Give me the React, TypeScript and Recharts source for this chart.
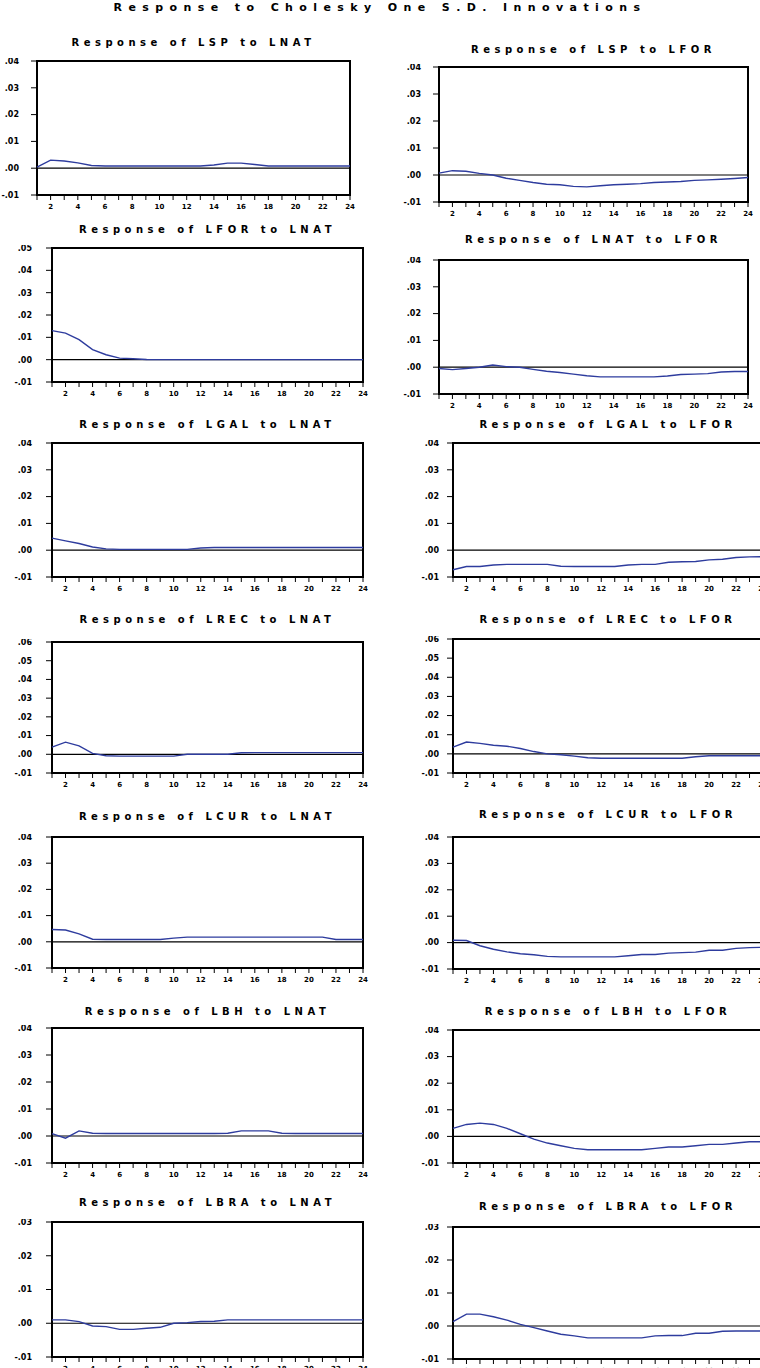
import React from 'react';
import { LineChart, Line, XAxis, YAxis, ReferenceLine, ReferenceArea } from 'recharts';

// periods 1..24, labels on even periods
const PERIODS = [1, 2, 3, 4, 5, 6, 7, 8, 9, 10, 11, 12, 13, 14, 15, 16, 17, 18, 19, 20, 21, 22, 23, 24];

const TICKS_5 = [-0.01, 0, 0.01, 0.02, 0.03];
const TICKS_6 = [-0.01, 0, 0.01, 0.02, 0.03, 0.04];
const TICKS_7 = [-0.01, 0, 0.01, 0.02, 0.03, 0.04, 0.05];
const TICKS_8 = [-0.01, 0, 0.01, 0.02, 0.03, 0.04, 0.05, 0.06];

const LSP_LNAT = [0.0004, 0.003, 0.0027, 0.002, 0.001, 0.0008, 0.0008, 0.0008, 0.0008, 0.0008, 0.0008, 0.0008, 0.0008, 0.0012, 0.0019, 0.0019, 0.0014, 0.0008, 0.0008, 0.0008, 0.0008, 0.0008, 0.0008, 0.0008];
const LSP_LFOR = [0.0007, 0.0016, 0.0014, 0.0006, 0.0, -0.0012, -0.002, -0.0028, -0.0034, -0.0036, -0.0042, -0.0044, -0.004, -0.0036, -0.0034, -0.0032, -0.0028, -0.0026, -0.0024, -0.002, -0.0018, -0.0016, -0.0013, -0.0009];
const LFOR_LNAT = [0.013, 0.0119, 0.009, 0.0045, 0.0022, 0.0007, 0.0004, 0.0001, 0.0, 0.0, 0.0, 0.0, 0.0, 0.0, 0.0, 0.0, 0.0, 0.0, 0.0, 0.0, 0.0, 0.0, 0.0, 0.0];
const LNAT_LFOR = [-0.0005, -0.0009, -0.0005, 0.0, 0.0008, 0.0002, 0.0, -0.0008, -0.0015, -0.002, -0.0026, -0.0032, -0.0036, -0.0036, -0.0036, -0.0036, -0.0036, -0.0033, -0.0027, -0.0026, -0.0024, -0.0018, -0.0016, -0.0016];
const LGAL_LNAT = [0.0045, 0.0035, 0.0025, 0.0012, 0.0005, 0.0003, 0.0003, 0.0003, 0.0003, 0.0003, 0.0003, 0.0008, 0.001, 0.001, 0.001, 0.001, 0.001, 0.001, 0.001, 0.001, 0.001, 0.001, 0.001, 0.001];
const LGAL_LFOR = [-0.0073, -0.0061, -0.0061, -0.0055, -0.0053, -0.0053, -0.0053, -0.0053, -0.006, -0.0061, -0.0061, -0.0061, -0.0061, -0.0055, -0.0053, -0.0053, -0.0045, -0.0043, -0.0042, -0.0036, -0.0034, -0.0027, -0.0025, -0.0024];
const LREC_LNAT = [0.0038, 0.0065, 0.0045, 0.0005, -0.0008, -0.001, -0.001, -0.001, -0.001, -0.001, 0.0, 0.0, 0.0, 0.0, 0.0008, 0.0009, 0.0009, 0.0009, 0.0009, 0.0009, 0.0009, 0.0009, 0.0009, 0.0009];
const LREC_LFOR = [0.0035, 0.0062, 0.0055, 0.0045, 0.004, 0.0028, 0.0012, 0.0, -0.0005, -0.0012, -0.002, -0.0023, -0.0023, -0.0023, -0.0023, -0.0023, -0.0023, -0.0023, -0.0015, -0.001, -0.001, -0.001, -0.001, -0.001];
const LCUR_LNAT = [0.0047, 0.0045, 0.003, 0.001, 0.0009, 0.0009, 0.0009, 0.0009, 0.0009, 0.0014, 0.0018, 0.0018, 0.0018, 0.0018, 0.0018, 0.0018, 0.0018, 0.0018, 0.0018, 0.0018, 0.0018, 0.0009, 0.0009, 0.0009];
const LCUR_LFOR = [0.0009, 0.0008, -0.0012, -0.0025, -0.0035, -0.0042, -0.0046, -0.0052, -0.0054, -0.0054, -0.0054, -0.0054, -0.0054, -0.005, -0.0045, -0.0045, -0.004, -0.0038, -0.0036, -0.0029, -0.0029, -0.0022, -0.0019, -0.0018];
const LBH_LNAT = [0.0009, -0.0008, 0.0019, 0.001, 0.0009, 0.0009, 0.0009, 0.0009, 0.0009, 0.0009, 0.0009, 0.0009, 0.0009, 0.001, 0.0019, 0.0019, 0.0019, 0.001, 0.0009, 0.0009, 0.0009, 0.0009, 0.0009, 0.0009];
const LBH_LFOR = [0.003, 0.0045, 0.005, 0.0045, 0.003, 0.001, -0.001, -0.0025, -0.0035, -0.0045, -0.005, -0.005, -0.005, -0.005, -0.005, -0.0045, -0.004, -0.004, -0.0035, -0.003, -0.003, -0.0025, -0.002, -0.002];
const LBRA_LNAT = [0.001, 0.001, 0.0005, -0.0008, -0.001, -0.0018, -0.0018, -0.0015, -0.0012, 0.0, 0.0002, 0.0005, 0.0006, 0.001, 0.001, 0.001, 0.001, 0.001, 0.001, 0.001, 0.001, 0.001, 0.001, 0.001];
const LBRA_LFOR = [0.0013, 0.0036, 0.0036, 0.0028, 0.0018, 0.0005, -0.0005, -0.0015, -0.0025, -0.003, -0.0036, -0.0036, -0.0036, -0.0036, -0.0036, -0.003, -0.0029, -0.0029, -0.0022, -0.0022, -0.0016, -0.0015, -0.0015, -0.0015];

const PANELS = [
  { title: 'Response of LSP to LNAT', values: LSP_LNAT, ticks: TICKS_6, box: [37, 350, 61, 195], titleY: 43, gap: 12 },
  { title: 'Response of LSP to LFOR', values: LSP_LFOR, ticks: TICKS_6, box: [439, 748, 67, 202], titleY: 50, gap: 12 },
  { title: 'Response of LFOR to LNAT', values: LFOR_LNAT, ticks: TICKS_7, box: [52, 363, 248, 382], titleY: 230, gap: 14 },
  { title: 'Response of LNAT to LFOR', values: LNAT_LFOR, ticks: TICKS_6, box: [439, 748, 260, 394], titleY: 240, gap: 12 },
  { title: 'Response of LGAL to LNAT', values: LGAL_LNAT, ticks: TICKS_6, box: [52, 363, 443, 577], titleY: 425, gap: 14 },
  { title: 'Response of LGAL to LFOR', values: LGAL_LFOR, ticks: TICKS_6, box: [453, 763, 443, 577], titleY: 425, gap: 8 },
  { title: 'Response of LREC to LNAT', values: LREC_LNAT, ticks: TICKS_8, box: [52, 363, 642, 773], titleY: 620, gap: 14 },
  { title: 'Response of LREC to LFOR', values: LREC_LFOR, ticks: TICKS_8, box: [453, 763, 639, 773], titleY: 620, gap: 8 },
  { title: 'Response of LCUR to LNAT', values: LCUR_LNAT, ticks: TICKS_6, box: [52, 363, 837, 968], titleY: 817, gap: 14 },
  { title: 'Response of LCUR to LFOR', values: LCUR_LFOR, ticks: TICKS_6, box: [453, 763, 837, 969], titleY: 815, gap: 8 },
  { title: 'Response of LBH to LNAT', values: LBH_LNAT, ticks: TICKS_6, box: [52, 363, 1028, 1163], titleY: 1012, gap: 14 },
  { title: 'Response of LBH to LFOR', values: LBH_LFOR, ticks: TICKS_6, box: [453, 763, 1030, 1163], titleY: 1012, gap: 8 },
  { title: 'Response of LBRA to LNAT', values: LBRA_LNAT, ticks: TICKS_5, box: [52, 363, 1222, 1357], titleY: 1203, gap: 14 },
  { title: 'Response of LBRA to LFOR', values: LBRA_LFOR, ticks: TICKS_5, box: [453, 763, 1227, 1359], titleY: 1207, gap: 8 },
];

const LINE_COLOR = '#2e3c9e';
const FONT = '"DejaVu Sans", Arial, sans-serif';

const fmt = (v: number) => {
  const s = Math.abs(v).toFixed(2).replace(/^0/, '');
  return (v < 0 ? '-' : '') + s;
};

const XTick = (props: any) => {
  const { x, y, payload } = props;
  if (payload.value % 2 !== 0) return <g />;
  return (
    <text x={x} y={y + 2} dy="0.71em" textAnchor="middle" fontSize={7} fontWeight="bold" fill="#000" fontFamily={FONT}>
      {payload.value}
    </text>
  );
};

const XH = 22;
const MT = 3;
const MR = 10;

const Panel = ({ cfg }: { cfg: any }) => {
  const [left, right, top, bottom] = cfg.box;
  const yw = Math.min(40, left - 1);
  const w = right - left;
  const h = bottom - top;
  const t = cfg.ticks;
  const data = PERIODS.map((p, i) => ({ period: p, value: cfg.values[i] }));
  return (
    <>
      <div
        style={{
          position: 'absolute',
          left: left - 20,
          width: w + 40,
          top: cfg.titleY - 7,
          textAlign: 'center',
          fontFamily: FONT,
          fontWeight: 'bold',
          fontSize: 10,
          letterSpacing: 4.5,
          whiteSpace: 'nowrap',
          lineHeight: '14px',
        }}
      >
        {cfg.title}
      </div>
      <div style={{ position: 'absolute', left: left - yw, top: top - MT }}>
        <LineChart width={w + yw + MR} height={h + MT + XH} data={data} margin={{ top: MT, right: MR, bottom: 0, left: 0 }}>
          <XAxis
            dataKey="period"
            type="number"
            domain={[1, 24]}
            ticks={PERIODS}
            interval={0}
            axisLine={false}
            tickSize={5}
            height={XH}
            stroke="#000"
            tick={<XTick />}
          />
          <YAxis
            type="number"
            domain={[t[0], t[t.length - 1]]}
            ticks={t}
            interval={0}
            width={yw}
            axisLine={false}
            tickSize={6}
            tickMargin={cfg.gap}
            stroke="#000"
            tickFormatter={fmt}
            tick={{ fontSize: 8, fontWeight: 'bold', fill: '#000', fontFamily: FONT }}
          />
          <ReferenceLine y={0} stroke="#000" strokeWidth={1.2} />
          <Line type="linear" dataKey="value" stroke={LINE_COLOR} strokeWidth={1.4} dot={false} isAnimationActive={false} />
          <ReferenceArea x1={1} x2={24} y1={t[0]} y2={t[t.length - 1]} fill="#fff" fillOpacity={0} stroke="#000" strokeWidth={2} />
        </LineChart>
      </div>
    </>
  );
};

export default function App() {
  return (
    <div style={{ position: 'absolute', left: 0, top: 0, width: 760, height: 1368, overflow: 'hidden', background: '#fff' }}>
      <div
        style={{
          position: 'absolute',
          left: 0,
          width: 760,
          top: 1,
          textAlign: 'center',
          fontFamily: FONT,
          fontWeight: 'bold',
          fontSize: 11,
          letterSpacing: 6.4,
          whiteSpace: 'nowrap',
          lineHeight: '14px',
        }}
      >
        Response to Cholesky One S.D. Innovations
      </div>
      {PANELS.map((p) => (
        <Panel key={p.title} cfg={p} />
      ))}
    </div>
  );
}
